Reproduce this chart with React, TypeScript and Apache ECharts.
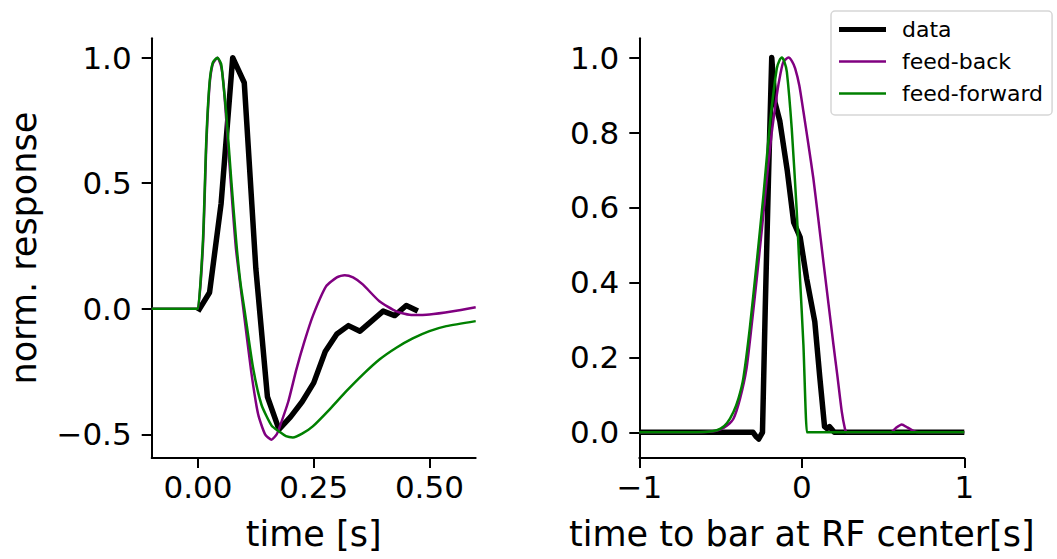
import { useEffect, useRef } from 'react';
import * as echarts from 'echarts';

// ---------- tick values & labels ----------
const leftXTicks = [0, 0.25, 0.5];
const leftXLabels = ['0.00', '0.25', '0.50'];
const leftYTicks = [-0.5, 0, 0.5, 1.0];
const leftYLabels = ['\u22120.5', '0.0', '0.5', '1.0'];
const rightXTicks = [-1, 0, 1];
const rightXLabels = ['\u22121', '0', '1'];
const rightYTicks = [0, 0.2, 0.4, 0.6, 0.8, 1.0];
const rightYLabels = ['0.0', '0.2', '0.4', '0.6', '0.8', '1.0'];

const seriesNames = ['data', 'feed-back', 'feed-forward'];

// ---------- left panel: temporal response ----------
const leftTime = [0, 0.025, 0.05, 0.075, 0.1, 0.125, 0.15, 0.175, 0.2, 0.225, 0.25, 0.275, 0.3, 0.325, 0.35, 0.375, 0.4, 0.425, 0.45, 0.475];
const leftData = [-0.01, 0.065, 0.42, 1.0, 0.9, 0.16, -0.35, -0.48, -0.43, -0.37, -0.295, -0.17, -0.1, -0.067, -0.089, -0.049, -0.009, -0.027, 0.013, -0.009];

const fbLeftX = [-0.1, -0.002, 0, 0.011, 0.018, 0.025, 0.032, 0.042, 0.05, 0.055, 0.06, 0.071, 0.082, 0.098, 0.115, 0.13, 0.145, 0.1585, 0.17, 0.1765, 0.195, 0.2125, 0.23, 0.248, 0.277, 0.3, 0.317, 0.335, 0.356, 0.392, 0.4285, 0.464, 0.5, 0.551, 0.6];
const fbLeftY = [0, 0, 0, 0.26, 0.65, 0.89, 0.975, 1.0, 0.965, 0.9, 0.78, 0.5, 0.24, 0.0, -0.25, -0.42, -0.5, -0.521, -0.5, -0.47, -0.37, -0.242, -0.13, -0.029, 0.09, 0.125, 0.134, 0.125, 0.097, 0.03, -0.01, -0.025, -0.023, -0.01, 0.006];

const ffLeftX = [-0.1, -0.002, 0, 0.0108, 0.018, 0.025, 0.032, 0.042, 0.05, 0.054, 0.061, 0.072, 0.083, 0.092, 0.101, 0.119, 0.137, 0.159, 0.1765, 0.19, 0.205, 0.225, 0.248, 0.284, 0.3205, 0.356, 0.392, 0.4285, 0.464, 0.5, 0.5365, 0.6];
const ffLeftY = [0, 0, 0, 0.276, 0.674, 0.9, 0.98, 1.0, 0.975, 0.91, 0.78, 0.51, 0.26, 0.1, -0.01, -0.235, -0.381, -0.465, -0.49, -0.507, -0.512, -0.497, -0.468, -0.401, -0.328, -0.262, -0.202, -0.155, -0.118, -0.089, -0.069, -0.049];

// ---------- right panel: moving bar response ----------
const rightDataX = [-1.0, -0.3, -0.28, -0.265, -0.242, -0.225, -0.205, -0.185, -0.165, -0.135, -0.09, -0.05, -0.01, 0.03, 0.08, 0.11, 0.14, 0.155, 0.17, 0.2, 1.0];
const rightDataY = [0, 0, -0.012, -0.018, 0.0, 0.33, 0.68, 1.0, 0.88, 0.83, 0.7, 0.56, 0.52, 0.41, 0.295, 0.15, 0.015, 0.01, 0.015, 0.0, 0];

const fbRightX = [-1, -0.65, -0.55, -0.5, -0.46, -0.42, -0.38, -0.34, -0.31, -0.277, -0.245, -0.215, -0.185, -0.154, -0.13, -0.113, -0.082, -0.06, -0.041, -0.015, 0.01, 0.04, 0.071, 0.1, 0.133, 0.165, 0.195, 0.22, 0.246, 0.265, 0.275, 0.283, 0.55, 0.58, 0.615, 0.65, 0.69, 0.72, 1];
const fbRightY = [0, 0, 0.002, 0.008, 0.018, 0.037, 0.09, 0.171, 0.28, 0.411, 0.545, 0.678, 0.8, 0.9, 0.96, 0.989, 1.0, 0.99, 0.971, 0.925, 0.856, 0.77, 0.678, 0.575, 0.455, 0.34, 0.233, 0.147, 0.055, 0.01, 0.0, 0, 0, 0.012, 0.021, 0.013, 0.003, 0, 0];

const ffRightX = [-1, -0.65, -0.55, -0.5, -0.46, -0.42, -0.39, -0.36, -0.32, -0.277, -0.236, -0.195, -0.154, -0.135, -0.123, -0.108, -0.092, -0.062, -0.031, -0.011, 0.01, 0.031, 0.036, 1];
const ffRightY = [0, 0, 0.003, 0.01, 0.025, 0.055, 0.09, 0.144, 0.278, 0.455, 0.633, 0.829, 0.971, 0.995, 1.0, 0.99, 0.962, 0.811, 0.589, 0.411, 0.233, 0.0, 0, 0];

// ---------- helpers ----------
const FONT = 'DejaVu Sans';
const BLACK = '#000000';
const PURPLE = '#800080';
const GREEN = '#008000';

const pairs = (xs: number[], ys: number[]) => xs.map((x, i) => [x, ys[i]]);

const labelFor = (ticks: number[], labels: string[]) => (v: number) => {
  const i = ticks.findIndex((t) => Math.abs(t - v) < 1e-9);
  return i >= 0 ? labels[i] : '';
};

function makeAxis(
  gridIndex: number,
  min: number,
  max: number,
  ticks: number[],
  labels: string[],
  isX: boolean,
  name?: string,
  nameGap?: number
) {
  return {
    type: 'value',
    gridIndex,
    min,
    max,
    splitLine: { show: false },
    axisLine: { show: true, onZero: false, lineStyle: { color: BLACK, width: 2 } },
    axisTick: { show: true, inside: false, length: 10, customValues: ticks, lineStyle: { color: BLACK, width: 2 } },
    axisLabel: {
      show: true,
      customValues: ticks,
      formatter: labelFor(ticks, labels),
      fontSize: 31,
      fontFamily: FONT,
      color: BLACK,
      margin: isX ? 13 : 20,
    },
    name: name ?? '',
    nameLocation: 'middle',
    nameGap: nameGap ?? 0,
    nameTextStyle: { fontSize: 35, fontFamily: FONT, color: BLACK },
  };
}

function lineSeries(name: string, xi: number, data: number[][], color: string, width: number, smooth: number | boolean, z: number) {
  return {
    type: 'line',
    name,
    xAxisIndex: xi,
    yAxisIndex: xi,
    data,
    symbol: 'none',
    showSymbol: false,
    smooth,
    z,
    lineStyle: { color, width, join: 'round', cap: 'butt' },
    itemStyle: { color },
    emphasis: { disabled: true },
  };
}

const legendIcon = (h: number) => `path://M0,0H47V${h}H0Z`;

const option = {
  animation: false,
  backgroundColor: '#ffffff',
  textStyle: { fontFamily: FONT },
  grid: [
    { left: 151.7, top: 38.3, width: 324, height: 419.7 },
    { left: 639.3, top: 38.3, width: 325, height: 419.7 },
  ],
  xAxis: [
    makeAxis(0, -0.1, 0.6, leftXTicks, leftXLabels, true, 'time [s]', 58),
    makeAxis(1, -1, 1, rightXTicks, rightXLabels, true, 'time to bar at RF center[s]', 58),
  ],
  yAxis: [
    makeAxis(0, -0.594, 1.077, leftYTicks, leftYLabels, false, 'norm. response', 110),
    makeAxis(1, -0.0686, 1.0515, rightYTicks, rightYLabels, false),
  ],
  legend: {
    show: true,
    data: [
      { name: seriesNames[0], icon: legendIcon(5), itemStyle: { color: BLACK } },
      { name: seriesNames[1], icon: legendIcon(2.5), itemStyle: { color: PURPLE } },
      { name: seriesNames[2], icon: legendIcon(2.5), itemStyle: { color: GREEN } },
    ],
    orient: 'vertical',
    left: 831,
    top: 11,
    padding: [7.5, 9, 10.5, 8],
    itemWidth: 47,
    itemHeight: 20,
    itemGap: 10,
    symbolKeepAspect: true,
    backgroundColor: 'rgba(255,255,255,0.8)',
    borderColor: '#d6d6d6',
    borderWidth: 1.5,
    borderRadius: 4,
    selectedMode: false,
    textStyle: { fontSize: 22, lineHeight: 20, fontFamily: FONT, color: BLACK, padding: [0, 0, 0, 11] },
  },
  series: [
    lineSeries(seriesNames[0], 0, pairs(leftTime, leftData), BLACK, 5.5, false, 2),
    lineSeries(seriesNames[1], 0, pairs(fbLeftX, fbLeftY), PURPLE, 2.5, 0.2, 3),
    lineSeries(seriesNames[2], 0, pairs(ffLeftX, ffLeftY), GREEN, 2.5, 0.2, 4),
    lineSeries(seriesNames[0], 1, pairs(rightDataX, rightDataY), BLACK, 5.5, false, 2),
    lineSeries(seriesNames[1], 1, pairs(fbRightX, fbRightY), PURPLE, 2.5, 0.2, 3),
    lineSeries(seriesNames[2], 1, pairs(ffRightX, ffRightY), GREEN, 2.5, 0.2, 4),
  ],
};

export default function App() {
  const ref = useRef<HTMLDivElement>(null);
  useEffect(() => {
    if (!ref.current) return;
    const chart = echarts.init(ref.current, null, { renderer: 'svg' });
    chart.setOption(option as any);
    return () => chart.dispose();
  }, []);
  return (
    <div
      ref={ref}
      style={{ position: 'fixed', left: 0, top: 0, width: 1057, height: 559, background: '#ffffff' }}
    />
  );
}
